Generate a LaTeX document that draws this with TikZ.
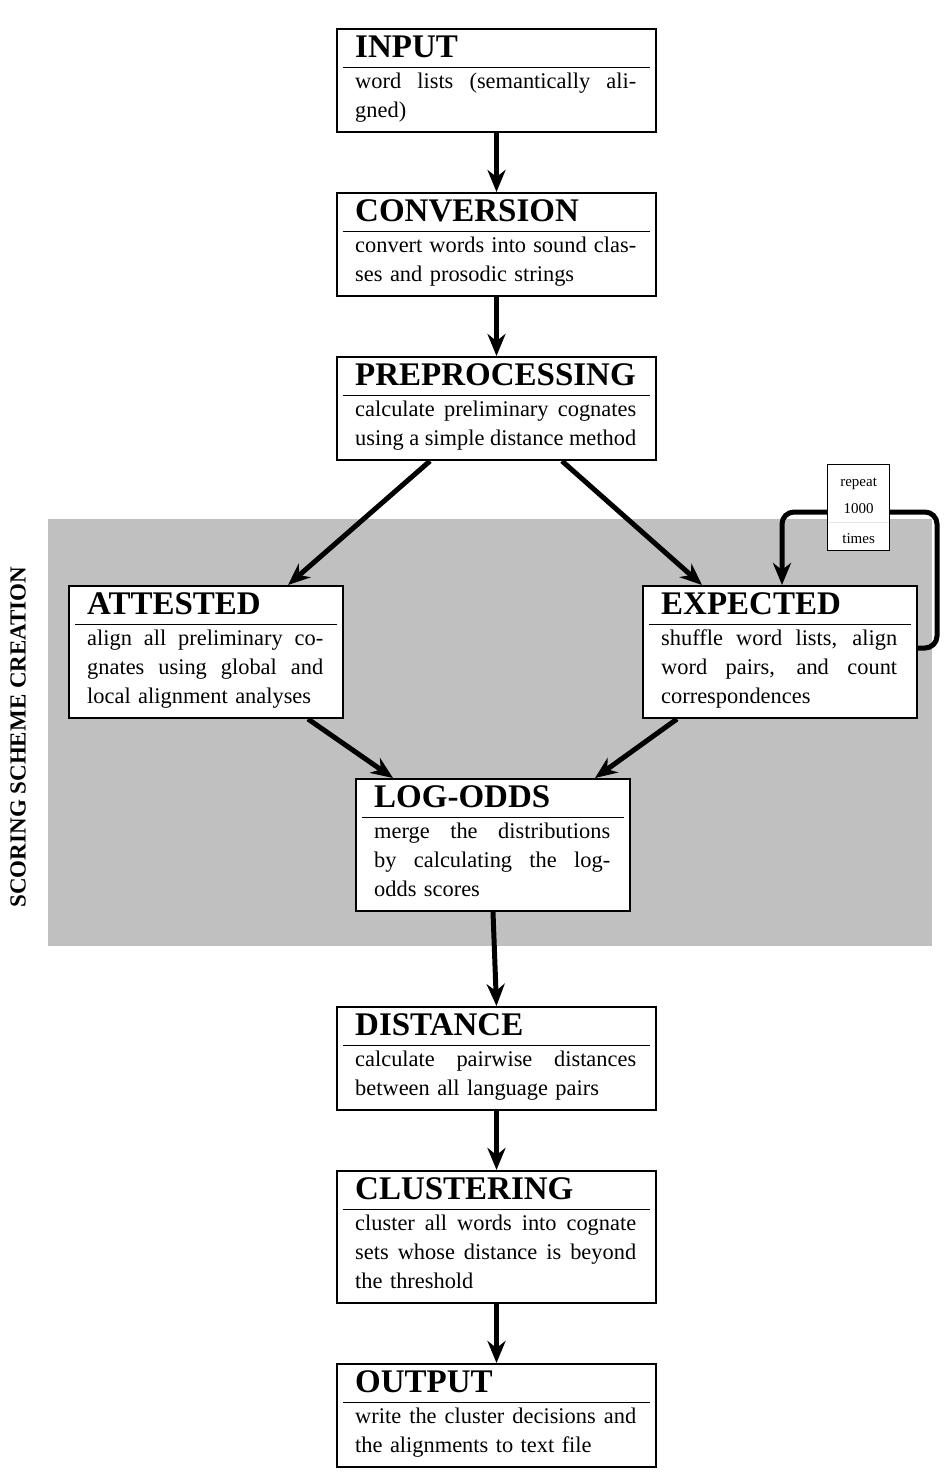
\documentclass[tikz,border=0pt]{standalone}
\usepackage{fontspec}
\setmainfont{Liberation Serif}
\usetikzlibrary{arrows.meta,calc}
\definecolor{bgray}{HTML}{C0C0C0}
\definecolor{faint}{HTML}{E8E8E8}
\newlength\bodyw
\newcommand\justln[1]{\makebox[\bodyw][s]{\spaceskip=0pt\xspaceskip=0pt #1}}
\newcommand\stagebox[8]{%
  \setlength\bodyw{#7pt}%
  \node[stage, minimum width=#4pt, minimum height=#5pt, anchor=north west] (#1) at (#2,#3) {};
  \node[stitle, anchor=base west] (#1-t) at ($(#1.north west)+(19,29)$) {#6};
  \draw[titlerule] ($(#1.north west)+(7,39.5)$) -- ($(#1.north east)+(-7,39.5)$);
  \node[sbody, text width=#7pt, anchor=north west] (#1-b) at ($(#1.north west)+(19,40)$) {\rule{0pt}{20pt}#8};
}
\tikzset{
  stage/.style={draw, line width=2pt, fill=white, inner sep=0pt, rectangle},
  stitle/.style={inner sep=0pt, font=\fontsize{33}{36}\selectfont\bfseries},
  sbody/.style={inner sep=0pt, align=left, font=\fontsize{22.4}{29}\selectfont},
  titlerule/.style={line width=1.3pt},
  flow/.style={line width=5pt, -{Stealth[length=22pt,width=18pt,inset=7pt]}},
  smalltxt/.style={inner sep=0pt, anchor=base, font=\fontsize{15}{18}\selectfont},
}
\begin{document}
\begin{tikzpicture}[x=1pt,y=-1pt]
\useasboundingbox (0,0) rectangle (952,1483);
\node[fill=bgray, minimum width=884pt, minimum height=427pt, anchor=north west, inner sep=0pt] (bg) at (48,519) {};
\node[rotate=90, inner sep=0pt, font=\fontsize{23}{26}\selectfont\bfseries] (scope) at (18,737) {SCORING SCHEME CREATION};

\stagebox{input}{336}{28}{319}{103}{INPUT}{281}{\justln{word lists (semantically ali-}\\gned)}
\stagebox{conv}{336}{192}{319}{103}{CONVERSION}{281}{\justln{convert words into sound clas-}\\ses and prosodic strings}
\stagebox{prep}{336}{356}{319}{103}{PREPROCESSING}{281}{\justln{calculate preliminary cognates}\\\justln{using a simple distance method}}
\stagebox{attested}{68}{585}{274}{132}{ATTESTED}{236}{\justln{align all preliminary co-}\\\justln{gnates using global and}\\local alignment analyses}
\stagebox{expected}{642}{585}{274}{132}{EXPECTED}{236}{\justln{shuffle word lists, align}\\\justln{word pairs, and count}\\correspondences}
\stagebox{logodds}{355}{778}{274}{132}{LOG-ODDS}{236}{\justln{merge the distributions}\\\justln{by calculating the log-}\\odds scores}
\stagebox{distance}{336}{1006}{319}{103}{DISTANCE}{281}{\justln{calculate pairwise distances}\\between all language pairs}
\stagebox{cluster}{336}{1170}{319}{132}{CLUSTERING}{281}{\justln{cluster all words into cognate}\\\justln{sets whose distance is beyond}\\the threshold}
\stagebox{output}{336}{1363}{319}{103}{OUTPUT}{281}{\justln{write the cluster decisions and}\\the alignments to text file}

\draw[flow] (input.south) -- (conv.north);
\draw[flow] (conv.south) -- (prep.north);
\draw[flow] ([xshift=94pt]prep.south west) -- ([xshift=220pt]attested.north west);
\draw[flow] ([xshift=-95pt]prep.south east) -- ([xshift=60pt]expected.north west);
\draw[flow] ([xshift=240pt]attested.south west) -- ([xshift=38pt]logodds.north west);
\draw[flow] ([xshift=35pt]expected.south west) -- ([xshift=-36pt]logodds.north east);
\draw[flow] ([xshift=138pt]logodds.south west) -- (distance.north);
\draw[flow] (distance.south) -- (cluster.north);
\draw[flow] (cluster.south) -- (output.north);

\coordinate (loopc) at (937,512);
\draw[flow, rounded corners=12pt] ([yshift=4pt]expected.east) -| (loopc) -| ([xshift=140pt]expected.north west);

\node[draw, line width=1.2pt, fill=white, minimum width=62pt, minimum height=86pt, anchor=north west, inner sep=0pt] (rep) at (827,464) {};
\draw[faint, line width=0.8pt] ($(rep.north west)+(1,58)$) -- ($(rep.north east)+(-1,58)$);
\node[smalltxt] (rep1) at ($(rep.north)+(0,22)$) {repeat};
\node[smalltxt] (rep2) at ($(rep.north)+(0,49)$) {1000};
\node[smalltxt] (rep3) at ($(rep.north)+(0,79)$) {times};
\end{tikzpicture}
\end{document}
